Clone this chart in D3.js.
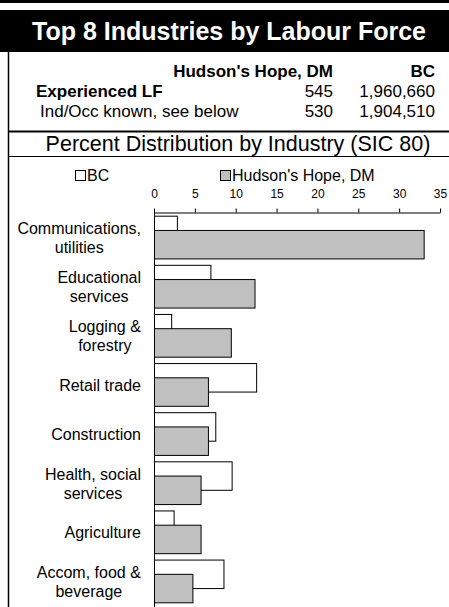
<!DOCTYPE html>
<html>
<head>
<meta charset="utf-8">
<title>Top 8 Industries by Labour Force</title>
<style>
  body { margin: 0; background: #fff; }
  text { font-family: Arial, "Liberation Sans", sans-serif; fill: #000; }
</style>
<script src="https://d3js.org/d3.v7.min.js"></script>
</head>
<body>
<div id="chart"></div>
<script>
// ---- data ----
var title = "Top 8 Industries by Labour Force";
var subtitle = "Percent Distribution by Industry (SIC 80)";
var tableHeads = ["Hudson's Hope, DM", "BC"];
var tableLabels = ["Experienced LF", "Ind/Occ known, see below"];
var tableLocal = ["545", "530"];
var tableBC = ["1,960,660", "1,904,510"];

var categories = [
  "Communications,\nutilities",
  "Educational\nservices",
  "Logging &\nforestry",
  "Retail trade",
  "Construction",
  "Health, social\nservices",
  "Agriculture",
  "Accom, food &\nbeverage"
];
var seriesNames = ["BC", "Hudson's Hope, DM"];
var bcValues = [2.8, 6.9, 2.1, 12.5, 7.5, 9.5, 2.4, 8.5];
var hhValues = [33.0, 12.3, 9.4, 6.6, 6.6, 5.7, 5.7, 4.7];
var xTicks = [0, 5, 10, 15, 20, 25, 30, 35];

var W = 449, H = 607;
var svg = d3.select("#chart").append("svg")
  .attr("width", W).attr("height", H);

// frame
svg.append("rect").attr("x", 0).attr("y", 0).attr("width", W).attr("height", 3).attr("fill", "#000");
svg.append("rect").attr("x", 0).attr("y", 10).attr("width", W).attr("height", 42).attr("fill", "#000");
svg.append("line").attr("x1", 8.5).attr("x2", 8.5).attr("y1", 52).attr("y2", H)
  .attr("stroke", "#000").attr("stroke-width", 1.5);
svg.append("line").attr("x1", 8).attr("x2", W).attr("y1", 131.5).attr("y2", 131.5)
  .attr("stroke", "#000").attr("stroke-width", 2);
svg.append("line").attr("x1", 8).attr("x2", W).attr("y1", 156.5).attr("y2", 156.5)
  .attr("stroke", "#000").attr("stroke-width", 1);

svg.append("text").attr("x", 229).attr("y", 40)
  .attr("text-anchor", "middle").style("font-size", "25px").style("font-weight", "bold")
  .style("fill", "#fff").text(title);

// table
svg.append("text").attr("x", 333).attr("y", 77).attr("text-anchor", "end")
  .style("font-size", "17px").style("font-weight", "bold").text(tableHeads[0]);
svg.append("text").attr("x", 435).attr("y", 77).attr("text-anchor", "end")
  .style("font-size", "17px").style("font-weight", "bold").text(tableHeads[1]);

tableLabels.forEach(function(lab, i) {
  var yy = 97 + i * 20;
  svg.append("text").attr("x", i == 0 ? 36 : 40).attr("y", yy)
    .style("font-size", "17px").style("font-weight", i == 0 ? "bold" : "normal").text(lab);
  svg.append("text").attr("x", 333).attr("y", yy).attr("text-anchor", "end")
    .style("font-size", "17px").text(tableLocal[i]);
  svg.append("text").attr("x", 435).attr("y", yy).attr("text-anchor", "end")
    .style("font-size", "17px").text(tableBC[i]);
});

svg.append("text").attr("x", 238).attr("y", 151).attr("text-anchor", "middle")
  .style("font-size", "21.5px").text(subtitle);

// scales
var x = d3.scaleLinear().domain([0, 35]).range([154, 440]);
var y = d3.scaleBand().domain(categories).range([213, 606]);
var barH = y.bandwidth() * 0.58;
var off = (y.bandwidth() - barH * 1.5) / 2;

// legend
var legend = svg.append("g").attr("class", "legend");
var legX = [75, 220];
var legFill = ["#fff", "#c0c0c0"];
seriesNames.forEach(function(n, i) {
  legend.append("rect").attr("x", legX[i] + 0.5).attr("y", 170.5)
    .attr("width", 10).attr("height", 10)
    .attr("fill", legFill[i]).attr("stroke", "#000").attr("stroke-width", 1);
  legend.append("text").attr("x", legX[i] + 12).attr("y", 181)
    .style("font-size", "16px").text(n);
});

// axis
var xAxis = d3.axisTop(x).tickValues(xTicks).tickSize(4).tickSizeOuter(0).tickPadding(11);
var gx = svg.append("g").attr("transform", "translate(0,212.5)").call(xAxis);
gx.selectAll("text").style("font-size", "12px").style("fill", "#000")
  .style("font-family", "Arial, 'Liberation Sans', sans-serif");
gx.selectAll("line").attr("stroke", "#000");
gx.select(".domain").attr("stroke", "#000");

// bars
var bars = svg.append("g");
bars.selectAll(".bc").data(categories).enter().append("rect")
  .attr("class", "bc")
  .attr("x", x(0) + 0.5)
  .attr("y", function(d) { return y(d) + off; })
  .attr("width", function(d, i) { return x(bcValues[i]) - x(0); })
  .attr("height", barH)
  .attr("fill", "#fff").attr("stroke", "#000").attr("stroke-width", 1);
bars.selectAll(".hh").data(categories).enter().append("rect")
  .attr("class", "hh")
  .attr("x", x(0) + 0.5)
  .attr("y", function(d) { return y(d) + off + barH / 2; })
  .attr("width", function(d, i) { return x(hhValues[i]) - x(0); })
  .attr("height", barH)
  .attr("fill", "#c0c0c0").attr("stroke", "#000").attr("stroke-width", 1);

// vertical category axis
svg.append("line").attr("x1", x(0) + 0.5).attr("x2", x(0) + 0.5).attr("y1", 212).attr("y2", H)
  .attr("stroke", "#000").attr("stroke-width", 1);

// category labels, lines centred, block right aligned
categories.forEach(function(c) {
  var lines = c.split("\n");
  var t = svg.append("text").style("font-size", "16px").attr("text-anchor", "middle");
  var cy = y(c) + y.bandwidth() / 2;
  var y0 = cy - (lines.length - 1) * 19 / 2 + 6;
  lines.forEach(function(l, j) {
    t.append("tspan").attr("x", 0).attr("y", y0 + j * 19).text(l);
  });
  var w = t.node().getBBox().width;
  t.selectAll("tspan").attr("x", 141 - w / 2);
});
</script>
</body>
</html>
